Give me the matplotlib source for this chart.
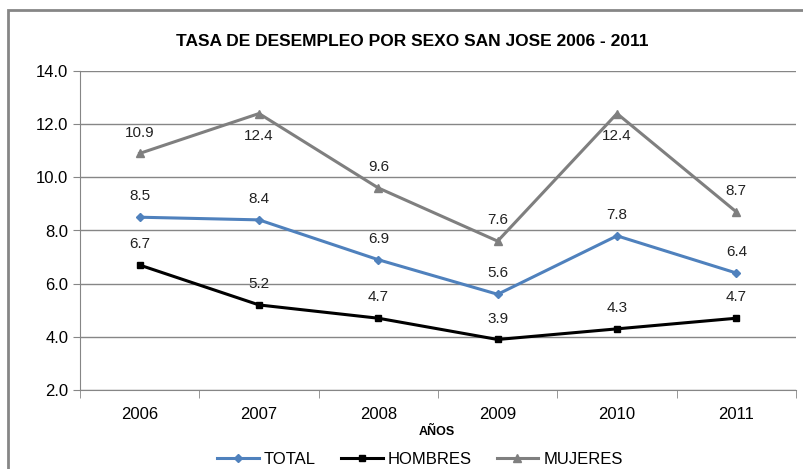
import numpy as np
import matplotlib.pyplot as plt
from matplotlib.patches import Rectangle

plt.rcParams['font.family'] = ['Liberation Sans Narrow', 'Liberation Sans', 'DejaVu Sans']

anios = ["2006", "2007", "2008", "2009", "2010", "2011"]
total = [8.5, 8.4, 6.9, 5.6, 7.8, 6.4]
hombres = [6.7, 5.2, 4.7, 3.9, 4.3, 4.7]
mujeres = [10.9, 12.4, 9.6, 7.6, 12.4, 8.7]
# posicion de la etiqueta: 1 arriba, -1 abajo
pos_mujeres = [1, -1, 1, 1, -1, 1]

fig = plt.figure(figsize=(8.04, 4.69), dpi=100)
ax = fig.add_axes([80/804, 1-390/469, 716/804, 319/469])

x = np.arange(len(anios))
ax.plot(x, total, color="#4F81BD", lw=2.2, marker="D", ms=4, label="TOTAL")
ax.plot(x, hombres, color="black", lw=2.2, marker="s", ms=5, label="HOMBRES")
ax.plot(x, mujeres, color="#7F7F7F", lw=2.2, marker="^", ms=6, label="MUJERES")

for i in range(len(x)):
    ax.annotate(f"{total[i]:.1f}", (x[i], total[i]), xytext=(0, 10), textcoords="offset points",
                ha="center", va="bottom", fontsize=11, color="#222222")
    ax.annotate(f"{hombres[i]:.1f}", (x[i], hombres[i]), xytext=(0, 10), textcoords="offset points",
                ha="center", va="bottom", fontsize=11, color="#222222")
    if pos_mujeres[i] > 0:
        ax.annotate(f"{mujeres[i]:.1f}", (x[i], mujeres[i]), xytext=(0, 10), textcoords="offset points",
                    ha="center", va="bottom", fontsize=11, color="#222222")
    else:
        ax.annotate(f"{mujeres[i]:.1f}", (x[i], mujeres[i]), xytext=(0, -11), textcoords="offset points",
                    ha="center", va="top", fontsize=11, color="#222222")

ax.set_xlim(-0.5, len(anios) - 0.5)
ax.set_ylim(2.0, 14.0)
ax.set_yticks(np.arange(2.0, 14.1, 2.0))
ax.set_yticklabels([f"{v:.1f}" for v in np.arange(2.0, 14.1, 2.0)], fontsize=12)
ax.set_xticks(x)
ax.set_xticklabels(anios, fontsize=12)
ax.set_xticks(np.arange(-0.5, len(anios), 1.0), minor=True)
ax.tick_params(axis="x", which="major", length=0, pad=12)
ax.tick_params(axis="x", which="minor", length=6, color="#868686")
ax.tick_params(axis="y", length=5, color="#868686")
ax.grid(axis="y", color="#868686", lw=1)
ax.set_axisbelow(True)
for s in ["top", "right"]:
    ax.spines[s].set_visible(False)
ax.spines["left"].set_color("#868686")
ax.spines["bottom"].set_color("#868686")

fig.text(412/804, 1-41/469, "TASA DE DESEMPLEO POR SEXO SAN JOSE 2006 - 2011",
         ha="center", va="center", fontsize=12.5, fontweight="bold")
fig.text(437/804, 1-432/469, "AÑOS", ha="center", va="center", fontsize=9, fontweight="bold")

ax.legend(loc="center", bbox_to_anchor=(420/804, 1-459/469), bbox_transform=fig.transFigure,
          ncol=3, frameon=False, fontsize=12, handlelength=2.5, columnspacing=1.5, handletextpad=0.3)

fig.add_artist(Rectangle((8/804, -0.1), 1.1, 1-10/469 + 0.1, transform=fig.transFigure,
                         fill=False, edgecolor="#868686", lw=2))

fig.savefig("out.png", dpi=100)
